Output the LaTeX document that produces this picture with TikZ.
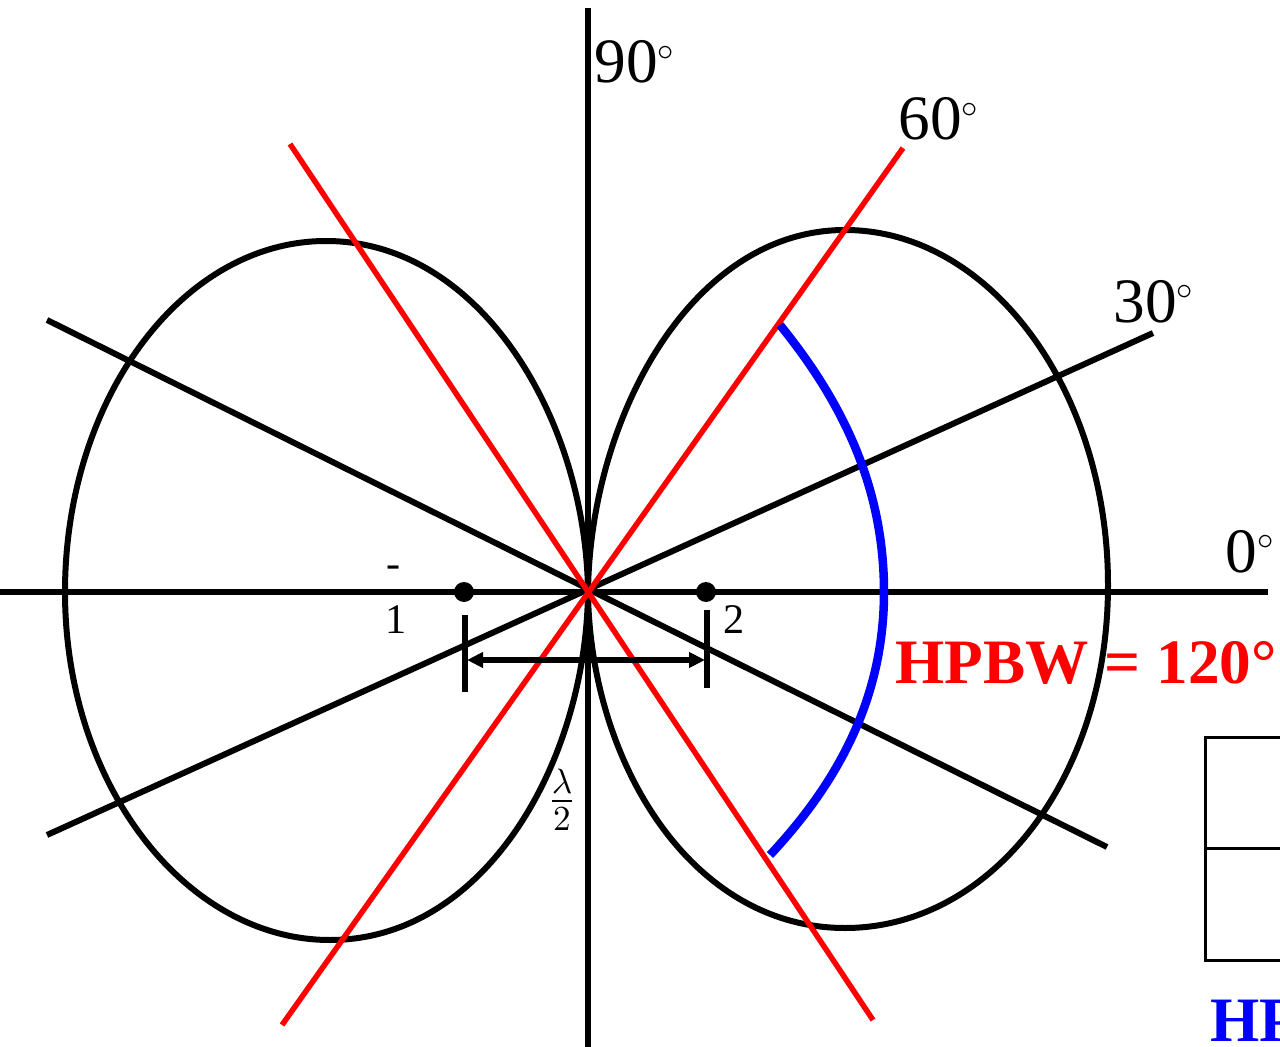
\documentclass[tikz,border=0pt]{standalone}
\usepackage{fontspec}
\setmainfont{Liberation Serif}
\usepackage{amsmath}
\usetikzlibrary{calc, arrows.meta}

\newcommand{\dg}{$^{\scriptscriptstyle\circ}$}

\tikzset{
  axisline/.style={line width=0.65mm, black},
  cutline/.style={line width=0.6mm, black},
  hpline/.style={line width=0.55mm, red},
  lobe/.style={line width=0.6mm, black},
  anglabel/.style={inner sep=0pt, font=\fontsize{18}{20}\selectfont},
  smalllabel/.style={inner sep=0pt, font=\fontsize{12}{14}\selectfont},
}

\begin{document}
\begin{tikzpicture}[x=0.1mm, y=-0.1mm]
			\useasboundingbox (0,0) rectangle (1280,1047);
			\clip (0,0) rectangle (1280,1047);
			\coordinate (O) at (588,592);
			% axes
			\coordinate (xl) at (0,592);
			\coordinate (xr) at (1268,592);
			\coordinate (yt) at (588,8);
			\coordinate (yb) at (588,1047);
			\draw[axisline] (xl) -- (xr);
			\draw[axisline] (yt) -- (yb);
			% the two other black lines
			\coordinate (a1) at (47,835);
			\coordinate (a2) at (1153,333);
			\coordinate (b1) at (47,320);
			\coordinate (b2) at (1107,847);
			\draw[cutline] (a1) -- (a2);
			\draw[cutline] (b1) -- (b2);
			% lobes
			\draw[lobe] (O) .. controls (590,420) and (690,230) .. (845,230)
				.. controls (990,230) and (1108,390) .. (1108,585)
				.. controls (1108,780) and (990,928) .. (845,928)
				.. controls (690,928) and (590,760) .. (O);
			\draw[lobe] (O) .. controls (586,420) and (481,241) .. (326,241)
				.. controls (182,241) and (65,399) .. (65,592)
				.. controls (65,785) and (186,940) .. (330,940)
				.. controls (485,940) and (586,762) .. (O);
			% half power lines
			\coordinate (r1) at (290,144);
			\coordinate (r2) at (873,1020);
			\coordinate (s1) at (903,148);
			\coordinate (s2) at (282,1025);
			\draw[hpline] (r1) -- (r2);
			\draw[hpline] (s1) -- (s2);
			% beam width arc
			\coordinate (h1) at (780,325);
			\draw[blue, line width=0.85mm] (h1) .. controls (845,405) and (884,490) .. (884,592)
				.. controls (884,690) and (845,775) .. (770,855);
			% elements and spacing
			\fill (464,592) circle (10) coordinate (e1);
			\fill (706,592) circle (10) coordinate (e2);
			\coordinate (t1) at (465,615);
			\coordinate (t2) at (465,692);
			\coordinate (t3) at (707,610);
			\coordinate (t4) at (707,688);
			\draw[line width=0.65mm] (t1) -- (t2);
			\draw[line width=0.65mm] (t3) -- (t4);
			\coordinate (d1) at (467,660);
			\coordinate (d2) at (705,660);
			\draw[line width=0.55mm, {Triangle[length=1.6mm,width=1.5mm]}-{Triangle[length=1.6mm,width=1.5mm]}] (d1) -- (d2);
			% labels
			\node[anglabel, anchor=base west] (l90) at (594,83) {90\dg};
			\node[anglabel, anchor=base west] (l60) at (898,140) {60\dg};
			\node[anglabel, anchor=base west] (l30) at (1113,322) {30\dg};
			\node[anglabel, anchor=base west] (l0) at (1225,572) {0\dg};
			\node[smalllabel] (minus) at (394,572) {-};
			\node[smalllabel] (n1) at (396,620) {1};
			\node[smalllabel] (n2) at (734,620) {2};
			\node[inner sep=0pt, font=\fontsize{14}{16}\selectfont] (lam) at (562,800) {$\frac{\lambda}{2}$};
			\node[anglabel, anchor=base west, text=red, font=\fontsize{18}{20}\selectfont\bfseries] (hpbw) at (895,683) {HPBW = 120°};
			% table at the edge
			\draw[line width=0.3mm] (1205,737) rectangle (1300,960);
			\draw[line width=0.3mm] (1205,848) -- (1300,848);
			\node[anglabel, anchor=base west, text=blue, font=\fontsize{18}{20}\selectfont\bfseries] (hpbw2) at (1210,1041) {HPBW};
\end{tikzpicture}
\end{document}
